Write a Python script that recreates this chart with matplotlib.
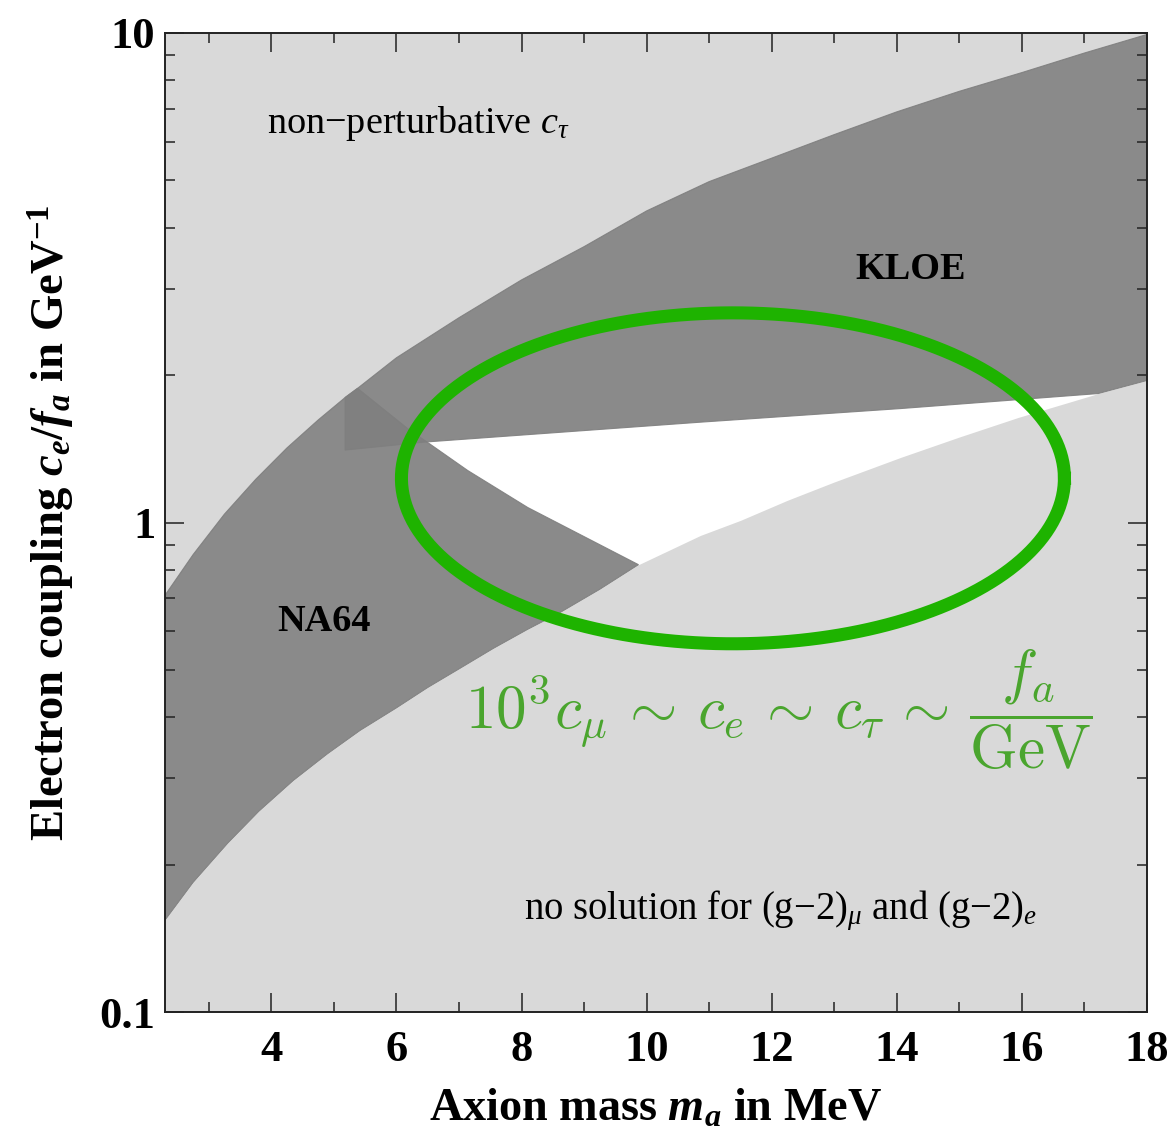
import numpy as np
import matplotlib
matplotlib.use("Agg")
import matplotlib.pyplot as plt
from matplotlib.ticker import MultipleLocator, LogLocator, NullFormatter

plt.rcParams['font.family'] = ['Liberation Serif', 'DejaVu Serif']
plt.rcParams['mathtext.fontset'] = 'custom'
plt.rcParams['mathtext.rm'] = 'Liberation Serif'
plt.rcParams['mathtext.it'] = 'Liberation Serif:italic'
plt.rcParams['mathtext.bf'] = 'Liberation Serif:bold'
plt.rcParams['mathtext.bfit'] = 'Liberation Serif:italic:bold'

# boundary of the non-perturbative c_tau region (upper edge of the bands)
top_x = [2.30, 2.75, 3.25, 3.75, 4.25, 4.75, 5.18, 5.38, 6.0, 7.0, 8.0, 9.0,
         10.0, 11.0, 12.0, 13.0, 14.0, 15.0, 16.0, 17.0, 18.0]
top_y = [0.710, 0.860, 1.040, 1.225, 1.420, 1.620, 1.800, 1.880, 2.170, 2.620, 3.130, 3.660,
         4.330, 4.970, 5.550, 6.200, 6.900, 7.600, 8.300, 9.100, 9.930]

# boundary of the "no solution" region
bot_x = [2.30, 2.75, 3.30, 3.80, 4.35, 4.90, 5.42, 6.00, 6.50, 7.00, 7.55, 8.10, 8.62,
         9.25, 9.87, 10.86, 11.50, 12.25, 13.00, 14.06, 15.00, 15.94, 17.22, 18.0]
bot_y = [0.154, 0.184, 0.221, 0.257, 0.297, 0.337, 0.376, 0.418, 0.460, 0.502, 0.553, 0.605, 0.655,
         0.730, 0.820, 0.941, 1.010, 1.110, 1.210, 1.358, 1.495, 1.639, 1.834, 1.950]

# NA64 exclusion, right hand edge
na64_x = [6.18, 6.50, 7.14, 8.10]
na64_y = [1.556, 1.457, 1.277, 1.073]

# KLOE exclusion, lower edge
kloe_x = [5.18, 6.46, 10.86, 14.06, 17.22, 18.0]
kloe_y = [1.406, 1.460, 1.603, 1.709, 1.834, 1.950]

# green benchmark ellipse (centre, half width in MeV, half height in decades)
ell_m, ell_c = 11.38, 1.231
ell_dm, ell_dlog = 5.30, 0.338

LIGHT = '#d9d9d9'
DARK = '#7f7f7f'
GREEN = '#1eb300'
TEXTGREEN = '#4aa52e'

fig = plt.figure(figsize=(11.71, 11.29), dpi=100)
ax = fig.add_axes([0.1409, 0.1036, 0.8386, 0.8672])
ax.set_yscale('log')
ax.set_xlim(2.3, 18)
ax.set_ylim(0.1, 10)

ax.fill_between(top_x, top_y, 10, color=LIGHT, lw=0)
ax.fill_between(bot_x, 0.1, bot_y, color=LIGHT, lw=0)

# NA64 band: top curve up to its corner, right edge, back along the lower curve
n_top = top_x.index(5.38) + 1
n_bot = bot_x.index(9.87) + 1
px = top_x[:n_top] + na64_x + bot_x[:n_bot][::-1]
py = top_y[:n_top] + na64_y + bot_y[:n_bot][::-1]
ax.fill(px, py, color=DARK, alpha=0.91, ec=DARK, lw=0.8)

# KLOE band: lower edge, then the top curve back
k0 = top_x.index(5.18)
kx = kloe_x + top_x[k0:][::-1]
ky = kloe_y + top_y[k0:][::-1]
ax.fill(kx, ky, color=DARK, alpha=0.91, ec=DARK, lw=0.8)

t = np.linspace(0, 2 * np.pi, 400)
ax.plot(ell_m + ell_dm * np.cos(t), ell_c * 10 ** (ell_dlog * np.sin(t)),
        color=GREEN, lw=9.4)

ax.text(3.936, 6.26, 'non\u2212perturbative $c_\\tau$', fontsize=27.5)
ax.text(13.34, 3.15, 'KLOE', fontsize=27.5, fontweight='bold')
ax.text(4.10, 0.599, 'NA64', fontsize=27.5, fontweight='bold')
ax.text(8.04, 0.1545, 'no solution for (g\u22122)$_\\mu$ and (g\u22122)$_e$', fontsize=27.8)
ax.text(7.10, 0.3795,
        r'$10^3c_\mu\,\sim\,c_e\,\sim\,c_\tau\,\sim\,\dfrac{f_a}{\mathrm{GeV}}$',
        fontsize=44, color=TEXTGREEN, math_fontfamily='cm', va='baseline')

ax.set_xticks([4, 6, 8, 10, 12, 14, 16, 18])
ax.xaxis.set_minor_locator(MultipleLocator(1))
ax.set_yticks([0.1, 1, 10])
ax.set_yticklabels(['0.1', '1', '10'])
ax.yaxis.set_minor_locator(LogLocator(base=10, subs=np.arange(2, 10)))
ax.yaxis.set_minor_formatter(NullFormatter())

ax.tick_params(which='both', direction='in', top=True, right=True, width=1.1, color='#222222')
ax.tick_params(which='major', length=14, labelsize=32)
ax.tick_params(which='minor', length=7)
ax.tick_params(axis='x', which='major', pad=13)
ax.tick_params(axis='y', which='major', pad=7)
for lab in ax.get_xticklabels() + ax.get_yticklabels():
    lab.set_fontweight('bold')
for s in ax.spines.values():
    s.set_linewidth(1.4)
    s.set_color('#222222')

ax.set_xlabel('Axion mass $\\mathbfit{m}_{\\mathbfit{a}}$ in MeV', fontsize=33.3,
              fontweight='bold', labelpad=13)
ax.set_ylabel('Electron coupling $\\mathbfit{c}_{\\mathbfit{e}}\\mathbf{/}\\mathbfit{f}_{\\mathbfit{a}}$ in GeV$^{\\mathbf{-1}}$',
              fontsize=33.6, fontweight='bold', labelpad=16)

fig.savefig('out.png', dpi=100)
